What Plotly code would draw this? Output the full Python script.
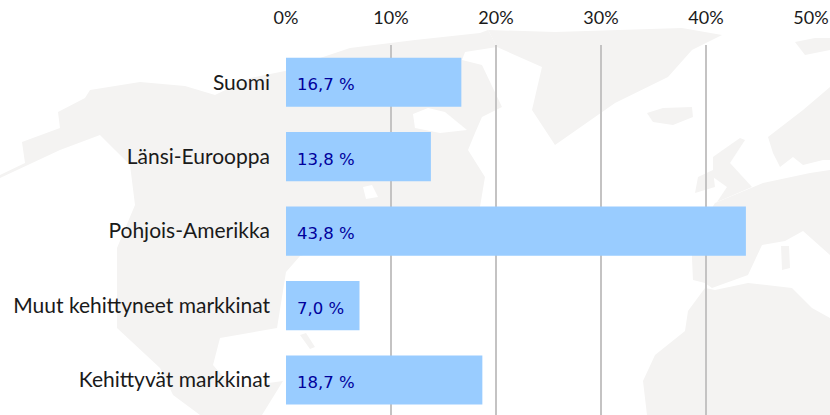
import plotly.graph_objects as go

categories = ["Suomi", "Länsi-Eurooppa", "Pohjois-Amerikka", "Muut kehittyneet markkinat", "Kehittyvät markkinat"]
shares = [16.7, 13.8, 43.8, 7.0, 18.7]
value_labels = ["16,7 %", "13,8 %", "43,8 %", "7,0 %", "18,7 %"]
tick_values = [0, 10, 20, 30, 40, 50]
tick_labels = ["0%", "10%", "20%", "30%", "40%", "50%"]

W, H = 830, 415
L, R, T, B = 286, 19, 45, 0
LAND = "#f4f3f2"

# Faint decorative world-map backdrop, outlines in page pixels
land_outlines = [
    [(0,175),(25,163),(22,142),(60,128),(58,112),(85,98),(90,90),(140,82),(185,86),(215,95),(250,78),(290,70),
     (320,58),(350,48),(415,40),(480,33),(488,30),(497,47),(465,52),(462,60),(482,65),(502,107),(482,117),(475,133),
     (468,150),(485,177),(480,207),(300,256),(286,272),(277,328),(220,338),(213,365),(233,388),(283,381),
     (262,415),(200,415),(173,395),(160,368),(117,328),(117,248),(135,205),(130,165),(100,135),(60,150),(0,178)],
    [(488,30),(555,32),(682,28),(722,35),(692,50),(668,77),(615,103),(555,145),(532,110),(542,67),(497,47)],
    [(647,113),(663,108),(692,107),(693,117),(673,125),(653,122)],
    [(713,157),(720,152),(740,138),(745,140),(730,163),(752,187),(717,202),(727,187),(713,177)],
    [(698,177),(713,170),(715,187),(695,193)],
    [(768,137),(803,110),(830,87),(830,160),(823,160),(803,165),(793,157),(780,167),(773,153)],
    [(795,42),(815,38),(830,38),(830,50),(805,55)],
    [(692,240),(715,203),(763,183),(810,173),(830,170),(830,255),(803,231),(785,241),(762,245),(748,275),
     (712,288),(705,283),(693,280),(692,258)],
    [(705,288),(715,290),(748,283),(792,288),(812,308),(830,318),(830,415),(647,415),(643,381),(655,355),
     (685,331),(688,311)],
    [(781,246),(789,246),(790,268),(782,270)],
    [(300,335),(306,333),(315,347),(310,349)],
]
water_outlines = [
    [(413,114),(428,108),(445,112),(467,130),(440,133),(415,128)],
    [(363,187),(372,185),(378,197),(366,199)],
]
WATER = "#ffffff"


def to_paper_path(points):
    plot_w, plot_h = W - L - R, H - T - B
    pts = [((x - L) / plot_w, 1 - (y - T) / plot_h) for x, y in points]
    return "M" + "L".join(f"{x:.4f},{y:.4f}" for x, y in pts) + "Z"


def blob(points, color):
    return dict(type="path", path=to_paper_path(points), xref="paper", yref="paper",
                fillcolor=color, line=dict(width=0), layer="below")


shapes = [blob(p, LAND) for p in land_outlines] + [blob(p, WATER) for p in water_outlines]

fig = go.Figure(go.Bar(
    y=categories, x=shares, orientation="h", width=0.66,
    marker=dict(color="#99ccff", line=dict(width=0)),
    hoverinfo="skip",
))

annotations = [
    dict(x=0, y=c, text=t, xref="x", yref="y", xanchor="left", xshift=9, yshift=-2.5, showarrow=False,
         font=dict(family="DejaVu Sans", size=16.5, color="#00009c"))
    for c, t in zip(categories, value_labels)
]

fig.update_layout(
    width=W, height=H, autosize=False,
    margin=dict(l=L, r=R, t=T, b=B, pad=0),
    paper_bgcolor="white", plot_bgcolor="rgba(0,0,0,0)",
    showlegend=False, shapes=shapes, annotations=annotations,
    font=dict(family="Lato", size=18, color="#1a1a1a"),
    xaxis=dict(side="top", range=[0, 50], tickvals=tick_values, ticktext=tick_labels,
               showgrid=True, gridcolor="#c4c3c3", gridwidth=1.5, zeroline=False, showline=False,
               ticks="", ticklabelstandoff=16, tickfont=dict(size=18), fixedrange=True, ticklabeloverflow="allow"),
    yaxis=dict(type="category", categoryorder="array", categoryarray=categories,
               autorange=False, range=[4.47, -0.5], showgrid=False, zeroline=False, showline=False,
               ticks="", ticklabelstandoff=15, tickfont=dict(size=21), fixedrange=True),
)
fig.write_html("out.html", config=dict(displayModeBar=False),
               post_script="document.body.style.margin='0';document.body.style.overflow='hidden';")
